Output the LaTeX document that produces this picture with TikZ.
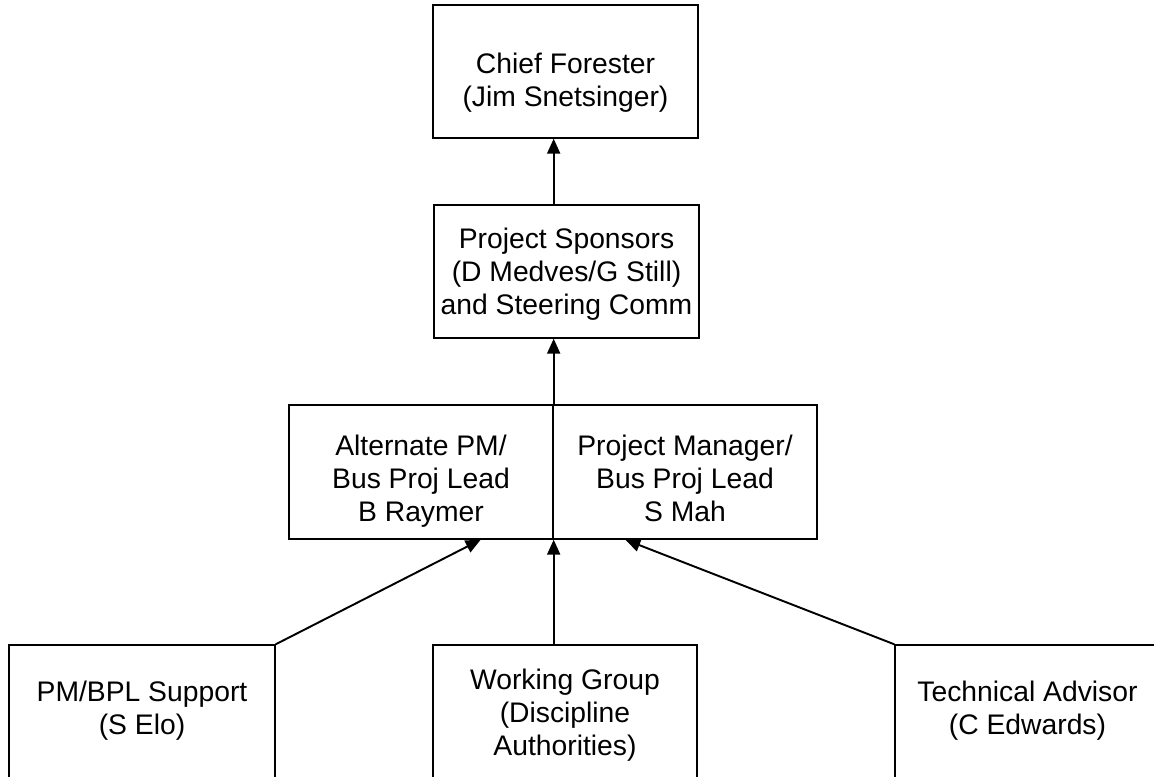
\documentclass[tikz,border=0pt]{standalone}
\usepackage{fontspec}
\setmainfont{Liberation Sans}
\usetikzlibrary{arrows.meta,calc}
\begin{document}
\begin{tikzpicture}[x=0.02cm,y=-0.02cm]

  \tikzset{box/.style={draw=black, line width=0.8pt, rectangle, inner sep=0pt,
      align=center, text depth=0pt, font=\fontsize{16.1}{18.9}\selectfont}}
  \tikzset{link/.style={draw=black, line width=1.1pt,
      -{Triangle[length=0.3cm,width=0.26cm]}}}
  \useasboundingbox (0,0) rectangle (1154,777);

  \node [box, text height=1.42cm, minimum width=5.3cm, minimum height=2.66cm]
    (chief) at (565.5,71.5) {Chief Forester\\(Jim Snetsinger)};
  \node [box, text height=1.74cm, minimum width=5.3cm, minimum height=2.66cm]
    (sponsors) at (566.5,271.5) {Project Sponsors\\(D Medves/G Still)\\and Steering Comm};
  \node [box, text height=1.98cm, minimum width=5.28cm, minimum height=2.68cm]
    (alt) at (421,472) {Alternate PM/\\Bus Proj Lead\\B Raymer};
  \node [box, text height=1.98cm, minimum width=5.28cm, minimum height=2.68cm]
    (pm) at (685,472) {Project Manager/\\Bus Proj Lead\\S Mah};
  \node [box, text height=0.9cm, minimum width=5.32cm, minimum height=2.7cm]
    (support) at (142,712.5) {PM/BPL Support\\(S Elo)};
  \node [box, text height=1.74cm, minimum width=5.28cm, minimum height=2.7cm]
    (wg) at (565,712.5) {Working Group\\(Discipline\\Authorities)};
  \node [box, text height=0.9cm, minimum width=5.3cm, minimum height=2.7cm]
    (tech) at (1027.5,712.5) {Technical Advisor\\(C Edwards)};

  \draw [link] (sponsors.north -| alt.north east) -- (chief.south -| alt.north east);
  \draw [link] (alt.north east) -- (alt.north east |- sponsors.south);
  \draw [link] (wg.north -| alt.south east) -- (alt.south east);
  \draw [link] (support.north east) -- ($(alt.south)!0.45!(alt.south east)$);
  \draw [link] (tech.north west) -- ($(pm.south)!0.45!(pm.south west)$);

\end{tikzpicture}
\end{document}
